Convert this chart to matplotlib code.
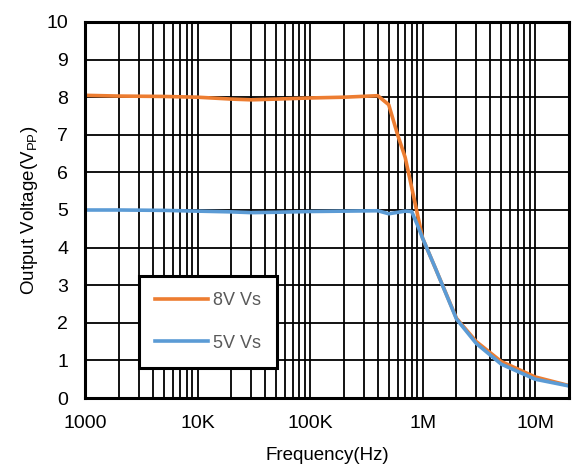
import numpy as np
import matplotlib
matplotlib.use("Agg")
import matplotlib.pyplot as plt

plt.rcParams['font.family'] = ['Liberation Sans', 'DejaVu Sans']
plt.rcParams['mathtext.fontset'] = 'custom'
plt.rcParams['mathtext.rm'] = 'Liberation Sans'

# frequency points (Hz) and output voltage (Vpp)
freq_8v = [1e3, 2e3, 5e3, 1e4, 2e4, 3e4, 5e4, 1e5, 2e5, 4e5, 5e5, 6e5, 7e5, 8e5,
           1e6, 1.3e6, 2e6, 3e6, 5e6, 1e7, 2e7]
vout_8v = [8.05, 8.03, 8.02, 8.0, 7.95, 7.93, 7.95, 7.98, 8.0, 8.04, 7.8, 7.0,
           6.4, 5.6, 4.25, 3.45, 2.12, 1.5, 0.97, 0.56, 0.33]
freq_5v = [1e3, 2e3, 5e3, 1e4, 2e4, 3e4, 5e4, 1e5, 2e5, 4e5, 5e5, 7e5, 8e5,
           9e5, 1e6, 1.3e6, 2e6, 3e6, 5e6, 1e7, 2e7]
vout_5v = [5.0, 5.0, 4.99, 4.97, 4.95, 4.93, 4.94, 4.96, 4.97, 4.98, 4.9, 4.97,
           4.96, 4.6, 4.25, 3.45, 2.1, 1.45, 0.9, 0.5, 0.32]

xticks = [1e3, 1e4, 1e5, 1e6, 1e7]
xticklabels = ["1000", "10K", "100K", "1M", "10M"]

fig = plt.figure(figsize=(5.74, 4.73), dpi=100)
ax = fig.add_axes([85/574, 1 - 398/473, (569 - 85)/574, (398 - 22)/473])

ax.plot(freq_8v, vout_8v, color='#ED7D31', lw=2.6, label='8V Vs', zorder=3)
ax.plot(freq_5v, vout_5v, color='#5B9BD5', lw=2.6, label='5V Vs', zorder=4)

ax.set_xscale('log')
ax.set_xlim(1e3, 2e7)
ax.set_ylim(0, 10)
ax.set_yticks(range(0, 11))
ax.set_xticks(xticks)
ax.set_xticklabels(xticklabels)
ax.set_xticks([m * 10**e for e in range(3, 8) for m in range(2, 10) if m * 10**e < 2e7], minor=True)
ax.xaxis.set_minor_formatter(matplotlib.ticker.NullFormatter())

ax.grid(True, which='both', axis='x', color='black', lw=1.3)
ax.grid(True, which='major', axis='y', color='black', lw=1.3)
ax.tick_params(which='both', length=0, labelsize=14, pad=12, colors='black')

for s in ax.spines.values():
    s.set_linewidth(2.2)
    s.set_zorder(5)

ax.set_xlabel('Frequency(Hz)', fontsize=13.5, labelpad=11)
ax.set_ylabel(r'Output Voltage(V$_{\mathrm{PP}}$)', fontsize=13.5, labelpad=5)

leg = ax.legend(loc='upper left', bbox_to_anchor=(139/574, 1 - 276/473),
                bbox_transform=fig.transFigure, fontsize=13, frameon=True,
                fancybox=False, edgecolor='black', framealpha=1,
                handlelength=2.9, handletextpad=0.3, labelspacing=1.4,
                borderpad=0.9, borderaxespad=0)
leg.get_frame().set_linewidth(2.2)
for t in leg.get_texts():
    t.set_color('#595959')

fig.savefig('out.png', dpi=100)
